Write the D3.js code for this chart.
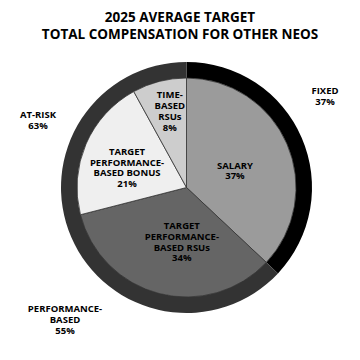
<!DOCTYPE html>
<html>
<head>
<meta charset="utf-8">
<script src="https://cdn.jsdelivr.net/npm/d3@7"></script>
<style>
  html, body { margin: 0; padding: 0; background: #fff; }
  svg { display: block; }
  text { font-family: "Open Sans", "Noto Sans", sans-serif; font-weight: 700; fill: #000; }
</style>
</head>
<body>
<svg id="chart" width="360" height="360"></svg>
<script>
// ---- data ----
const titleLines = ["2025 AVERAGE TARGET", "TOTAL COMPENSATION FOR OTHER NEOS"];
const categories = ["SALARY", "TARGET PERFORMANCE-BASED RSUs", "TARGET PERFORMANCE-BASED BONUS", "TIME-BASED RSUs"];
const values = [37, 34, 21, 8];
const labelLines = [
  ["SALARY", "37%"],
  ["TARGET", "PERFORMANCE-", "BASED RSUs", "34%"],
  ["TARGET", "PERFORMANCE-", "BASED BONUS", "21%"],
  ["TIME-", "BASED", "RSUs", "8%"]
];
const ringCategories = ["FIXED", "AT-RISK"];
const ringValues = [37, 63];
const outerLabels = [
  ["FIXED", "37%"],
  ["AT-RISK", "63%"],
  ["PERFORMANCE-", "BASED", "55%"]
];

// ---- styles / layout ----
const sliceColors = ["#9b9b9b", "#656565", "#efefef", "#cdcdcd"];
const ringColors = ["#000000", "#333333"];
const labelOffset = [[-2, 5], [9, 1], [-9, 2], [-3, -23]];
const outerPos = [[325, 91], [38, 115], [65, 309]];
const cx = 186.5, cy = 187.5, R = 125.5, rPie = 109.5;
const fs = 9.5, lh = 10.8;

const svg = d3.select("#chart");

// title
svg.append("g").selectAll("text").data(titleLines).join("text")
  .attr("x", 180).attr("y", (d, i) => 21.5 + i * 17.5)
  .attr("text-anchor", "middle")
  .attr("font-size", 13.5)
  .text(d => d);

const g = svg.append("g").attr("transform", `translate(${cx},${cy})`);

const pie = d3.pie().sort(null).value(d => d);

// outer ring
const ringArc = d3.arc().innerRadius(rPie - 0.5).outerRadius(R);
g.append("g").selectAll("path").data(pie(ringValues)).join("path")
  .attr("d", ringArc)
  .attr("fill", (d, i) => ringColors[i]);

// inner pie
const arc = d3.arc().innerRadius(0).outerRadius(rPie);
const arcs = pie(values);
g.append("g").selectAll("path").data(arcs).join("path")
  .attr("d", arc)
  .attr("fill", (d, i) => sliceColors[i])
  .attr("stroke", "#333333")
  .attr("stroke-width", 0.8);

// slice labels
const labelArc = d3.arc().innerRadius(55).outerRadius(55);
arcs.forEach((a, i) => {
  const c = labelArc.centroid(a);
  const x = c[0] + labelOffset[i][0], y = c[1] + labelOffset[i][1];
  const lines = labelLines[i];
  const t = g.append("text")
    .attr("text-anchor", "middle")
    .attr("font-size", fs);
  lines.forEach((ln, j) => {
    t.append("tspan")
      .attr("x", x)
      .attr("y", y + (j - (lines.length - 1) / 2) * lh + 3.4)
      .text(ln);
  });
});

// outer labels
outerLabels.forEach((lines, i) => {
  const t = svg.append("text")
    .attr("text-anchor", "middle")
    .attr("font-size", fs);
  lines.forEach((ln, j) => {
    t.append("tspan")
      .attr("x", outerPos[i][0])
      .attr("y", outerPos[i][1] + j * lh + 3.4)
      .text(ln);
  });
});
</script>
</body>
</html>
